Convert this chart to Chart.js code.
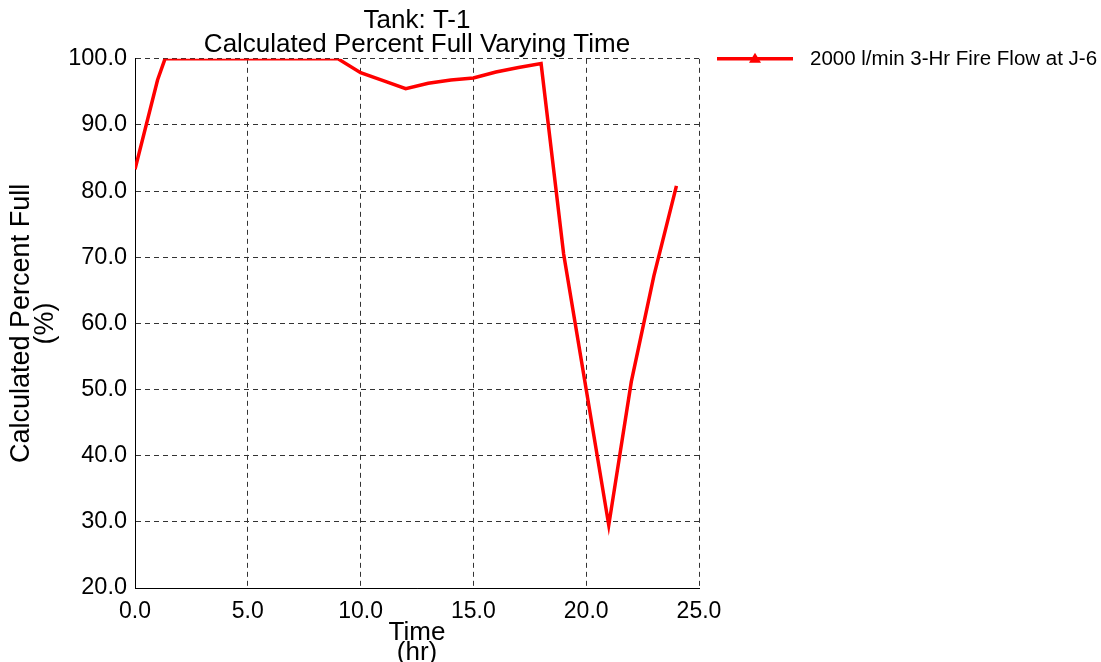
<!DOCTYPE html>
<html>
<head>
<meta charset="utf-8">
<script src="https://cdn.jsdelivr.net/npm/chart.js@4"></script>
<style>
  body { margin: 0; background: #fff; }
  #wrap { width: 1101px; height: 662px; }
</style>
</head>
<body>
<div id="wrap"><canvas id="tank-chart" width="1101" height="662"></canvas></div>
<script>
// Values
const timeHr = [0, 1, 1.33, 9, 10, 11, 12, 13, 14, 15, 16, 17, 18, 19, 20, 21, 22, 23, 24];
const percentFull = [83.3, 96.8, 100, 100, 97.9, 96.7, 95.5, 96.3, 96.8, 97.1, 98.0, 98.7, 99.3, 70.5, 50.0, 29.5, 51.2, 67.2, 80.8];
const seriesLabel = '2000 l/min 3-Hr Fire Flow at J-6';
const chartTitle = ['Tank: T-1', 'Calculated Percent Full Varying Time'];
const xTitle = ['Time', '(hr)'];
const yTitle = ['Calculated Percent Full', '(%)'];

const FONT = "'Liberation Sans', Arial, sans-serif";

// legend drawn beside the plot, like the original
const sideLegend = {
    id: 'sideLegend',
    afterDraw(chart) {
        const ctx = chart.ctx;
        const ds = chart.data.datasets[0];
        const y = chart.chartArea.top;
        const x0 = chart.chartArea.right + 18;
        ctx.save();
        ctx.strokeStyle = ds.borderColor;
        ctx.lineWidth = 3.5;
        ctx.beginPath();
        ctx.moveTo(x0, y);
        ctx.lineTo(x0 + 76, y);
        ctx.stroke();
        ctx.fillStyle = ds.borderColor;
        ctx.beginPath();
        ctx.moveTo(x0 + 38, y - 6);
        ctx.lineTo(x0 + 44, y + 4);
        ctx.lineTo(x0 + 32, y + 4);
        ctx.closePath();
        ctx.fill();
        ctx.fillStyle = '#000';
        ctx.font = '20.5px ' + FONT;
        ctx.textBaseline = 'middle';
        ctx.fillText(ds.label, x0 + 93, y + 1);
        ctx.restore();
    }
};

const ctx = document.getElementById('tank-chart').getContext('2d');
new Chart(ctx, {
    type: 'line',
    data: {
        datasets: [{
            label: seriesLabel,
            data: timeHr.map((t, i) => ({ x: t, y: percentFull[i] })),
            borderColor: '#ff0000',
            borderWidth: 3.5,
            pointRadius: 0,
            pointStyle: 'triangle',
            tension: 0,
            fill: false
        }]
    },
    options: {
        responsive: false,
        animation: false,
        layout: { padding: { left: 0, right: 402, top: 0, bottom: 0 } },
        scales: {
            x: {
                type: 'linear',
                min: 0,
                max: 25,
                ticks: {
                    stepSize: 5,
                    color: '#000',
                    padding: 10,
                    font: { family: FONT, size: 23 },
                    callback: v => v.toFixed(1)
                },
                grid: { color: '#333', lineWidth: 1, drawTicks: false },
                border: { color: '#000', width: 1, dash: [5, 4] },
                title: {
                    display: true,
                    text: xTitle,
                    color: '#000',
                    padding: { top: 0, bottom: -1 },
                    font: { family: FONT, size: 26, lineHeight: 0.78 }
                },
                afterFit: s => { s.height = 74; }
            },
            y: {
                min: 20,
                max: 100,
                ticks: {
                    stepSize: 10,
                    color: '#000',
                    padding: 8,
                    font: { family: FONT, size: 23.5 },
                    callback: v => v.toFixed(1)
                },
                grid: { color: '#333', lineWidth: 1, drawTicks: false },
                border: { color: '#000', width: 1, dash: [5, 4] },
                title: {
                    display: true,
                    text: yTitle,
                    color: '#000',
                    padding: { top: 9, bottom: 0 },
                    font: { family: FONT, size: 27, lineHeight: 0.9 }
                },
                afterFit: s => { s.width = 135; }
            }
        },
        plugins: {
            legend: { display: false },
            tooltip: { enabled: false },
            title: {
                display: true,
                text: chartTitle,
                fullSize: false,
                color: '#000',
                padding: { top: 9, bottom: 2 },
                font: { family: FONT, size: 26, weight: 'normal', lineHeight: 0.92 }
            }
        }
    },
    plugins: [sideLegend]
});
</script>
</body>
</html>
